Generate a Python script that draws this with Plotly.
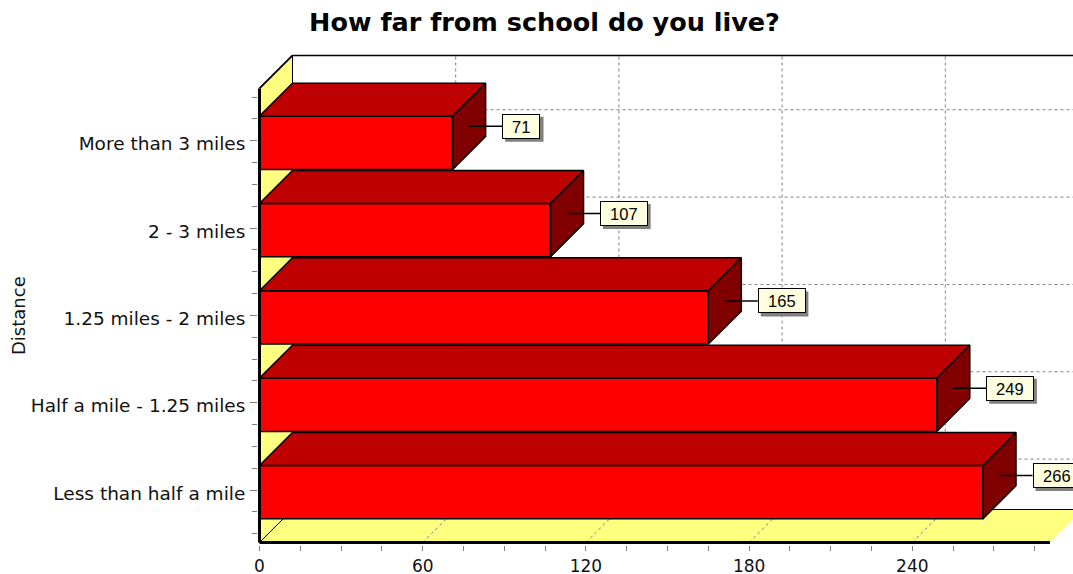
import plotly.graph_objects as go

# Survey answers, bottom row first
categories = ["Less than half a mile", "Half a mile - 1.25 miles",
              "1.25 miles - 2 miles", "2 - 3 miles", "More than 3 miles"]
counts = [266, 249, 165, 107, 71]

x_tick_values = [0, 60, 120, 180, 240]
x_minor_step = 15

title_text = "How far from school do you live?"
y_title_text = "Distance"

# ---- page and plot geometry ----
W, H = 1073, 574
M_L, M_R, M_T, M_B = 258, 0, 54, 29
PLOT_W = W - M_L - M_R
PLOT_H = H - M_T - M_B

X_PX = 2.72            # pixels per count
Y_PX = 87.33           # pixels per category step
LEFT_PAD_PX = 1.5      # gap between plot edge and count 0
BOTTOM_PAD_PX = 2.5    # gap between plot edge and the front floor edge

# front plane of the 3D box, in axis units
FRONT_X_END = 290.6
FRONT_Y_LO = -0.6
FRONT_Y_HI = len(categories) - 1 + 0.6

x_lo = -LEFT_PAD_PX / X_PX
x_hi = x_lo + PLOT_W / X_PX
y_lo = FRONT_Y_LO - BOTTOM_PAD_PX / Y_PX
y_hi = y_lo + PLOT_H / Y_PX

DEPTH_PX = 33
dx = DEPTH_PX / X_PX
dy = DEPTH_PX / Y_PX
BAR_W = 0.61
BAR_SHIFT = -2 / Y_PX   # front faces sit slightly below their tick
LABEL_GAP = 33 / X_PX

RED_FRONT = "#FF0000"
RED_TOP = "#BE0000"
RED_SIDE = "#800000"
WALL = "#FFFF80"
GRID = "#808080"
LABEL_BG = "#FFFFE0"
LABEL_FONT = dict(family="Liberation Sans, Arial", size=16.5, color="black")
BOX_H = 21
SHADOW = 3

positions = list(range(len(categories)))
bar_centres = [p + BAR_SHIFT for p in positions]


def path(points):
    return "M " + " L ".join(f"{px},{py}" for px, py in points) + " Z"


def seg(x0, y0, x1, y1, color="black", width=1.0, dash="solid"):
    return dict(type="line", xref="x", yref="y", x0=x0, y0=y0, x1=x1, y1=y1,
                line=dict(color=color, width=width, dash=dash), layer="below")


shapes = []
# left wall and floor
shapes.append(dict(type="path", xref="x", yref="y", layer="below",
                   path=path([(0, FRONT_Y_LO), (dx, FRONT_Y_LO + dy),
                              (dx, FRONT_Y_HI + dy), (0, FRONT_Y_HI)]),
                   fillcolor=WALL, line=dict(width=0)))
shapes.append(dict(type="path", xref="x", yref="y", layer="below",
                   path=path([(0, FRONT_Y_LO), (FRONT_X_END, FRONT_Y_LO),
                              (FRONT_X_END + dx, FRONT_Y_LO + dy),
                              (dx, FRONT_Y_LO + dy)]),
                   fillcolor=WALL, line=dict(width=0)))

# dotted value grid: across the floor, then up the back wall
for t in x_tick_values[1:]:
    shapes.append(seg(t, FRONT_Y_LO, t + dx, FRONT_Y_LO + dy, GRID, 1, "dot"))
    shapes.append(seg(t + dx, FRONT_Y_LO + dy, t + dx, FRONT_Y_HI + dy, GRID, 1, "dot"))
# dotted category grid on the back wall
for c in bar_centres:
    shapes.append(seg(dx, c + dy, x_hi, c + dy, GRID, 1, "dot"))

# box edges
shapes.append(seg(dx, FRONT_Y_HI + dy, x_hi, FRONT_Y_HI + dy, "black", 1.5))
shapes.append(seg(dx, FRONT_Y_LO + dy, dx, FRONT_Y_HI + dy, "black", 1))
shapes.append(seg(dx, FRONT_Y_LO + dy, FRONT_X_END + dx, FRONT_Y_LO + dy, "black", 1))
shapes.append(seg(0, FRONT_Y_HI, dx, FRONT_Y_HI + dy, "black", 2))
shapes.append(seg(0, FRONT_Y_LO, dx, FRONT_Y_LO + dy, "black", 1))

fig = go.Figure()

# front faces of the bars
fig.add_trace(go.Bar(
    y=bar_centres, x=counts, orientation="h", width=BAR_W, base=0,
    marker=dict(color=RED_FRONT, line=dict(color="black", width=1.5)),
    hoverinfo="skip", showlegend=False,
))

# top and side faces, drawn from the back row forward
for c, v in sorted(zip(bar_centres, counts), key=lambda cv: -cv[0]):
    top = c + BAR_W / 2
    bot = c - BAR_W / 2
    fig.add_trace(go.Scatter(
        x=[0, v, v + dx, dx, 0], y=[top, top, top + dy, top + dy, top],
        mode="lines", fill="toself", fillcolor=RED_TOP,
        line=dict(color="black", width=1.5), hoverinfo="skip", showlegend=False))
    fig.add_trace(go.Scatter(
        x=[v, v + dx, v + dx, v, v], y=[bot, bot + dy, top + dy, top, bot],
        mode="lines", fill="toself", fillcolor=RED_SIDE,
        line=dict(color="black", width=1.5), hoverinfo="skip", showlegend=False))
    # leader line from the side face to the value box
    fig.add_trace(go.Scatter(
        x=[v + dx / 2, v + dx / 2 + LABEL_GAP], y=[c + dy / 2, c + dy / 2],
        mode="lines", line=dict(color="black", width=1.5),
        hoverinfo="skip", showlegend=False))

# front axis lines
fig.add_trace(go.Scatter(x=[0, 0], y=[FRONT_Y_LO, FRONT_Y_HI], mode="lines",
                         line=dict(color="black", width=3),
                         hoverinfo="skip", showlegend=False))
fig.add_trace(go.Scatter(x=[0, FRONT_X_END], y=[FRONT_Y_LO, FRONT_Y_LO], mode="lines",
                         line=dict(color="black", width=3),
                         hoverinfo="skip", showlegend=False))

annotations = []
for c, v in zip(bar_centres, counts):
    label = str(v)
    box_w = 9.2 * len(label) + 16
    bx, by = v + dx / 2 + LABEL_GAP, c + dy / 2
    outer_w = box_w + 4
    outer_h = BOX_H + 4
    # drop shadow behind the value box
    shapes.append(dict(type="rect", layer="above",
                       xref="x", yref="y", xsizemode="pixel", ysizemode="pixel",
                       xanchor=bx, yanchor=by,
                       x0=SHADOW, x1=SHADOW + outer_w,
                       y0=-outer_h / 2 - SHADOW, y1=outer_h / 2 - SHADOW,
                       fillcolor=GRID, line=dict(width=0)))
    annotations.append(dict(x=bx, y=by, xref="x", yref="y",
                            xanchor="left", yanchor="middle", showarrow=False,
                            text=label, width=box_w, height=BOX_H, borderpad=1,
                            borderwidth=1, align="center",
                            bgcolor=LABEL_BG, bordercolor="black", font=LABEL_FONT))

annotations.append(dict(text=y_title_text, textangle=-90, xref="paper", yref="paper",
                        x=(18 - M_L) / PLOT_W, y=(H - M_B - 315) / PLOT_H,
                        xanchor="center", yanchor="middle", showarrow=False,
                        font=dict(family="DejaVu Sans", size=18, color="#111")))

minor_y = [k / 4 for k in range(-2, 4 * (len(categories) - 1) + 3) if k % 4]

fig.update_layout(
    width=W, height=H,
    margin=dict(l=M_L, r=M_R, t=M_T, b=M_B, pad=0, autoexpand=False),
    paper_bgcolor="white", plot_bgcolor="white",
    title=dict(text=title_text, x=544.5 / W, xanchor="center",
               y=1 - 22 / H, yanchor="middle",
               font=dict(family="DejaVu Sans", size=25.5, color="black", weight="bold")),
    xaxis=dict(range=[x_lo, x_hi], showgrid=False, zeroline=False, showline=False,
               automargin=False,
               tickmode="array", tickvals=x_tick_values,
               ticks="outside", ticklen=5, tickcolor=GRID, tickwidth=1,
               ticklabelstandoff=1,
               minor=dict(dtick=x_minor_step, tick0=0, ticks="outside", ticklen=5,
                          tickcolor=GRID, tickwidth=1, showgrid=False),
               tickfont=dict(family="DejaVu Sans", size=17, color="#111")),
    yaxis=dict(range=[y_lo, y_hi], showgrid=False, zeroline=False, showline=False,
               automargin=False,
               tickmode="array", tickvals=positions, ticktext=categories,
               ticks="outside", ticklen=7, tickcolor=GRID, tickwidth=1,
               ticklabelshift=3, ticklabelstandoff=1,
               minor=dict(tickmode="array", tickvals=minor_y, ticks="outside",
                          ticklen=5, tickcolor=GRID, tickwidth=1, showgrid=False),
               tickfont=dict(family="DejaVu Sans", size=18.5, color="#111")),
    shapes=shapes,
    annotations=annotations,
    showlegend=False,
)

fig.write_html("out.html")
